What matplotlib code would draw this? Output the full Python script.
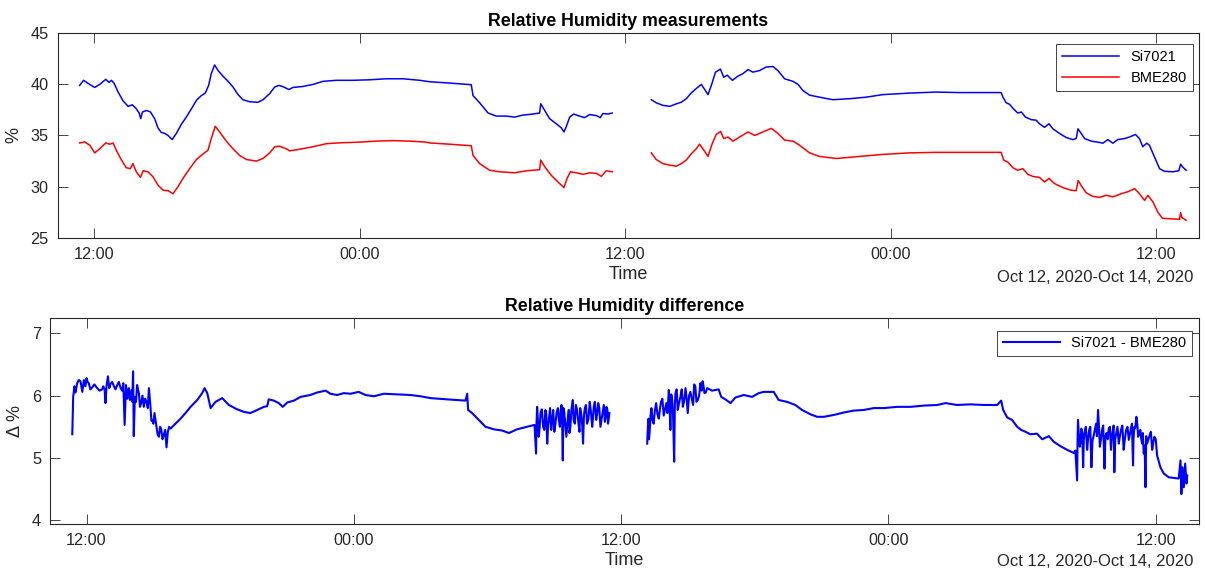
import numpy as np
import matplotlib
matplotlib.use('Agg')
import matplotlib.pyplot as plt
import matplotlib.dates as mdates

# (hours after 2020-10-12 00:00, value)
si7021_rh = [
    (11.35, 39.9), (11.53, 40.4), (11.73, 40.1), (12.03, 39.7), (12.26, 40.0), (12.53, 40.5),
    (12.68, 40.2), (12.79, 40.4), (12.91, 40.1), (13.09, 39.25), (13.31, 38.4), (13.54, 37.85),
    (13.73, 38.0), (13.88, 37.7), (14.04, 37.2), (14.11, 36.65), (14.19, 37.3), (14.37, 37.45),
    (14.55, 37.3), (14.74, 36.65), (14.89, 35.75), (15.04, 35.3), (15.20, 35.2), (15.35, 35.0),
    (15.53, 34.6), (15.72, 35.2), (15.95, 36.1), (16.17, 36.8), (16.40, 37.6), (16.63, 38.45),
    (16.85, 38.9), (17.03, 39.15), (17.18, 39.9), (17.30, 41.05), (17.45, 41.9), (17.61, 41.35),
    (17.83, 40.8), (18.06, 40.3), (18.28, 39.75), (18.51, 39.0), (18.73, 38.5), (19.04, 38.3),
    (19.41, 38.25), (19.64, 38.5), (19.94, 39.1), (20.17, 39.75), (20.36, 39.9), (20.57, 39.75),
    (20.81, 39.5), (20.99, 39.7), (21.45, 39.8), (21.90, 40.0), (22.35, 40.3), (22.95, 40.4),
    (23.71, 40.4), (24.46, 40.45), (25.21, 40.55), (25.97, 40.55), (26.72, 40.4), (27.17, 40.26),
    (28.07, 40.13), (29.05, 39.97), (29.13, 38.9), (29.43, 38.2), (29.81, 37.2), (30.18, 36.9),
    (30.63, 36.9), (31.01, 36.8), (31.39, 37.0), (31.84, 37.1), (32.14, 37.2), (32.19, 38.1),
    (32.37, 37.45), (32.59, 36.65), (32.89, 36.15), (33.12, 35.75), (33.24, 35.35), (33.35, 35.9),
    (33.50, 36.8), (33.68, 37.1), (33.87, 36.95), (34.17, 36.75), (34.40, 37.05), (34.70, 36.95),
    (34.88, 36.75), (35.00, 37.15), (35.23, 37.1), (35.42, 37.2),
    (37.19, 38.5), (37.41, 38.2), (37.71, 37.95), (38.02, 37.85), (38.32, 38.1), (38.54, 38.25),
    (38.77, 38.6), (38.99, 39.15), (39.22, 39.6), (39.45, 40.0), (39.60, 39.5), (39.75, 39.0),
    (39.90, 39.9), (40.09, 41.2), (40.31, 41.5), (40.46, 40.7), (40.62, 40.9), (40.85, 40.4),
    (41.10, 40.8), (41.33, 41.05), (41.56, 41.45), (41.78, 41.2), (42.08, 41.35), (42.38, 41.7),
    (42.69, 41.75), (42.91, 41.35), (43.21, 40.55), (43.59, 40.3), (43.82, 40.0), (44.04, 39.4),
    (44.34, 38.95), (44.79, 38.75), (45.39, 38.5), (46.15, 38.6), (46.90, 38.75), (47.65, 39.0),
    (48.86, 39.15), (50.06, 39.25), (51.12, 39.2), (51.87, 39.2), (53.00, 39.2), (53.08, 38.75),
    (53.23, 38.2), (53.38, 38.05), (53.56, 37.6), (53.75, 37.2), (53.91, 37.3), (54.10, 36.8),
    (54.36, 36.55), (54.58, 36.5), (54.73, 36.15), (54.96, 35.8), (55.16, 36.15), (55.34, 35.65),
    (55.64, 35.2), (55.94, 34.8), (56.24, 34.6), (56.39, 34.7), (56.47, 35.65), (56.57, 35.35),
    (56.77, 34.7), (57.07, 34.45), (57.37, 34.35), (57.60, 34.25), (57.82, 34.6), (58.05, 34.25),
    (58.27, 34.6), (58.58, 34.7), (58.80, 34.85), (59.07, 35.1), (59.25, 34.7), (59.40, 33.9),
    (59.58, 34.25), (59.70, 34.05), (59.93, 32.9), (60.16, 31.75), (60.38, 31.5), (60.76, 31.45),
    (61.03, 31.55), (61.11, 32.2), (61.21, 31.9), (61.36, 31.6),
]

bme280_rh = [
    (11.35, 34.27), (11.58, 34.37), (11.81, 34.05), (12.03, 33.3), (12.26, 33.7), (12.53, 34.27),
    (12.71, 34.15), (12.86, 34.27), (13.01, 33.55), (13.24, 32.6), (13.46, 31.85), (13.64, 31.75),
    (13.76, 32.25), (13.91, 31.45), (14.10, 30.9), (14.22, 31.55), (14.44, 31.45), (14.67, 30.95),
    (14.89, 30.15), (15.12, 29.65), (15.35, 29.6), (15.57, 29.3), (15.80, 30.0), (16.02, 30.8),
    (16.32, 31.75), (16.63, 32.65), (16.93, 33.2), (17.15, 33.55), (17.30, 34.7), (17.48, 35.9),
    (17.68, 35.35), (17.98, 34.45), (18.28, 33.7), (18.58, 33.05), (18.89, 32.65), (19.34, 32.5),
    (19.64, 32.75), (19.94, 33.3), (20.17, 33.9), (20.39, 33.95), (20.69, 33.7), (20.84, 33.5),
    (21.15, 33.6), (21.90, 33.9), (22.50, 34.2), (23.25, 34.3), (24.01, 34.35), (24.76, 34.45),
    (25.51, 34.5), (26.27, 34.45), (27.02, 34.35), (27.17, 34.27), (28.07, 34.15), (29.05, 34.0),
    (29.13, 33.05), (29.43, 32.25), (29.88, 31.6), (30.33, 31.45), (31.01, 31.35), (31.54, 31.55),
    (32.14, 31.65), (32.19, 32.6), (32.37, 31.95), (32.67, 31.1), (32.97, 30.45), (33.24, 29.9),
    (33.38, 30.8), (33.53, 31.45), (33.80, 31.35), (34.10, 31.2), (34.40, 31.35), (34.70, 31.3),
    (34.93, 31.0), (35.15, 31.55), (35.42, 31.45),
    (37.19, 33.3), (37.41, 32.65), (37.71, 32.25), (38.02, 32.1), (38.32, 32.0), (38.54, 32.25),
    (38.77, 32.6), (38.99, 33.2), (39.22, 33.7), (39.37, 34.15), (39.52, 33.7), (39.75, 32.95),
    (39.94, 34.2), (40.12, 35.1), (40.32, 35.4), (40.46, 34.7), (40.65, 34.85), (40.88, 34.45),
    (41.18, 34.85), (41.56, 35.35), (41.86, 35.0), (42.23, 35.35), (42.61, 35.7), (42.91, 35.2),
    (43.21, 34.55), (43.59, 34.45), (43.89, 34.05), (44.34, 33.3), (44.79, 32.95), (45.55, 32.75),
    (46.60, 32.95), (47.65, 33.15), (48.86, 33.3), (50.06, 33.35), (51.12, 33.35), (53.00, 33.35),
    (53.11, 32.6), (53.30, 32.4), (53.53, 31.85), (53.75, 31.6), (53.98, 31.75), (54.21, 31.2),
    (54.43, 31.0), (54.73, 30.9), (54.96, 30.45), (55.16, 30.8), (55.41, 30.3), (55.79, 29.9),
    (56.16, 29.65), (56.39, 29.6), (56.48, 30.6), (56.62, 30.1), (56.84, 29.4), (57.14, 29.05),
    (57.45, 28.95), (57.75, 29.15), (58.05, 29.0), (58.42, 29.3), (58.73, 29.5), (59.03, 29.8),
    (59.25, 29.3), (59.48, 28.65), (59.63, 29.15), (59.86, 28.5), (60.08, 27.5), (60.29, 26.9),
    (61.06, 26.8), (61.11, 27.45), (61.16, 27.0), (61.36, 26.7),
]

rh_diff = [
    (11.36, 5.38), (11.40, 5.98), (11.46, 6.15), (11.58, 6.2), (11.73, 6.23), (11.81, 6.06),
    (11.88, 6.25), (12.00, 6.28), (12.10, 6.2), (12.25, 6.13), (12.48, 6.12), (12.70, 6.1),
    (12.81, 6.1), (12.85, 5.88), (12.90, 6.17), (12.96, 6.31), (13.08, 6.19), (13.23, 6.15),
    (13.38, 6.17), (13.53, 6.12), (13.65, 6.2), (13.71, 5.53), (13.77, 6.17), (13.86, 6.06),
    (13.95, 5.93), (14.02, 6.09), (14.09, 6.39), (14.12, 5.35), (14.17, 5.98), (14.27, 6.17),
    (14.35, 6.04), (14.45, 5.88), (14.57, 5.82), (14.69, 5.9), (14.80, 6.12), (14.87, 5.82),
    (14.95, 5.61), (15.05, 5.72), (15.14, 5.5), (15.25, 5.34), (15.35, 5.47), (15.47, 5.37),
    (15.59, 5.17), (15.65, 5.42), (15.77, 5.47), (15.99, 5.55), (16.22, 5.63), (16.44, 5.72),
    (16.67, 5.82), (16.97, 5.93), (17.19, 6.04), (17.30, 6.12), (17.42, 6.04), (17.57, 5.8),
    (17.79, 5.9), (18.09, 5.96), (18.39, 5.85), (18.76, 5.78), (19.06, 5.74), (19.36, 5.72),
    (19.66, 5.77), (19.96, 5.82), (20.11, 5.83), (20.18, 5.94), (20.41, 5.92), (20.63, 5.88),
    (20.81, 5.82), (21.01, 5.89), (21.31, 5.92), (21.61, 5.98), (22.05, 6.01), (22.35, 6.05),
    (22.73, 6.08), (22.95, 6.03), (23.25, 6.01), (23.55, 6.04), (23.85, 6.03), (24.22, 6.06),
    (24.52, 6.01), (24.90, 5.99), (25.35, 6.03), (25.94, 6.02), (26.54, 6.01), (26.99, 5.99),
    (27.44, 5.96), (28.19, 5.94), (29.01, 5.92), (29.09, 6.03), (29.13, 5.77), (29.31, 5.72),
    (29.61, 5.61), (29.91, 5.5), (30.28, 5.46), (30.66, 5.44), (30.96, 5.4), (31.33, 5.46),
    (31.78, 5.5), (32.11, 5.53), (32.18, 5.07), (32.23, 5.82), (32.30, 5.34), (32.38, 5.72),
    (32.50, 5.5), (32.60, 5.77), (32.68, 5.23), (32.77, 5.66), (32.86, 5.45), (32.95, 5.77),
    (33.05, 5.55), (33.16, 5.8), (33.25, 5.5), (33.32, 5.85), (33.38, 4.96), (33.45, 5.72),
    (33.54, 5.34), (33.65, 5.77), (33.72, 5.5), (33.83, 5.93), (33.92, 5.55), (34.02, 5.77),
    (34.13, 5.42), (34.20, 5.72), (34.29, 5.23), (34.37, 5.8), (34.47, 5.55), (34.59, 5.9),
    (34.70, 5.5), (34.77, 5.82), (34.88, 5.61), (34.97, 5.88), (35.07, 5.5), (35.18, 5.77),
    (35.27, 5.58), (35.34, 5.82), (35.41, 5.55), (35.47, 5.72),
    (37.17, 5.23), (37.23, 5.63), (37.28, 5.42), (37.36, 5.8), (37.46, 5.55), (37.57, 5.88),
    (37.69, 5.63), (37.79, 5.9), (37.91, 5.68), (38.03, 5.88), (38.14, 6.09), (38.21, 5.45),
    (38.29, 5.93), (38.38, 4.94), (38.44, 6.04), (38.54, 5.77), (38.66, 5.98), (38.77, 5.82),
    (38.89, 6.12), (38.99, 5.72), (39.11, 6.06), (39.23, 5.85), (39.33, 6.15), (39.44, 5.93),
    (39.56, 6.2), (39.66, 6.23), (39.74, 6.04), (39.86, 6.12), (40.08, 6.08), (40.38, 6.1),
    (40.49, 5.98), (40.68, 5.94), (40.91, 5.88), (41.13, 5.97), (41.50, 6.01), (41.88, 5.98),
    (42.18, 6.04), (42.40, 6.06), (42.85, 6.06), (43.07, 5.93), (43.45, 5.9), (43.82, 5.85),
    (44.12, 5.77), (44.50, 5.7), (44.80, 5.66), (45.10, 5.66), (45.55, 5.69), (46.00, 5.73),
    (46.45, 5.76), (46.89, 5.77), (47.34, 5.8), (47.79, 5.8), (48.39, 5.82), (48.99, 5.82),
    (49.59, 5.84), (50.19, 5.85), (50.56, 5.88), (51.08, 5.85), (51.68, 5.86), (52.28, 5.85),
    (52.88, 5.85), (53.06, 5.92), (53.15, 5.77), (53.33, 5.65), (53.55, 5.61), (53.78, 5.5),
    (53.96, 5.45), (54.15, 5.42), (54.37, 5.38), (54.67, 5.39), (54.90, 5.3), (55.20, 5.35),
    (55.42, 5.26), (55.72, 5.19), (56.02, 5.13), (56.32, 5.08), (56.39, 5.12), (56.47, 4.64),
    (56.51, 5.61), (56.59, 5.18), (56.66, 5.47), (56.74, 4.85), (56.81, 5.42), (56.92, 5.13),
    (57.01, 5.45), (57.11, 4.85), (57.22, 5.37), (57.32, 5.55), (57.41, 5.77), (57.49, 5.18),
    (57.59, 5.45), (57.70, 4.83), (57.79, 5.4), (57.89, 5.47), (57.99, 5.13), (58.08, 5.45),
    (58.14, 4.77), (58.23, 5.4), (58.34, 5.23), (58.44, 5.45), (58.56, 5.13), (58.67, 5.45),
    (58.79, 5.29), (58.89, 5.47), (58.98, 4.88), (59.04, 5.5), (59.13, 5.66), (59.21, 5.34),
    (59.31, 5.45), (59.39, 5.23), (59.46, 5.07), (59.54, 4.53), (59.61, 5.23), (59.73, 5.37),
    (59.84, 5.13), (59.94, 5.34), (60.06, 5.04), (60.21, 4.85), (60.36, 4.75), (60.58, 4.69),
    (60.81, 4.68), (61.03, 4.67), (61.11, 4.96), (61.15, 4.42), (61.20, 4.85), (61.26, 4.53),
    (61.32, 4.91), (61.38, 4.59), (61.41, 4.72),
    # extra samples inside the noisy stretches
    (11.50, 6.05), (11.65, 6.25), (11.77, 6.15), (11.95, 6.15), (12.05, 6.22), (12.17, 6.1),
    (12.35, 6.18), (12.58, 6.08), (12.75, 6.15), (13.02, 6.12), (13.15, 6.22), (13.30, 6.1),
    (13.45, 6.22), (13.60, 6.08), (13.83, 5.95), (13.90, 6.12), (13.98, 6.0), (14.05, 5.9),
    (14.22, 5.9), (14.31, 6.1), (14.40, 5.82), (14.51, 6.0), (14.63, 5.95), (14.75, 5.8),
    (14.84, 5.95), (14.91, 5.6), (15.00, 5.55), (15.10, 5.6), (15.19, 5.38), (15.30, 5.5),
    (15.41, 5.3), (15.53, 5.45), (15.62, 5.3), (15.71, 5.5),
    (32.20, 5.55), (32.26, 5.6), (32.34, 5.48), (32.44, 5.78), (32.55, 5.45), (32.64, 5.7),
    (32.72, 5.5), (32.81, 5.8), (32.90, 5.58), (33.00, 5.42), (33.10, 5.72), (33.20, 5.62),
    (33.28, 5.75), (33.35, 5.6), (33.41, 5.8), (33.49, 5.55), (33.60, 5.62), (33.68, 5.4),
    (33.77, 5.78), (33.87, 5.6), (33.97, 5.85), (34.07, 5.6), (34.16, 5.8), (34.25, 5.55),
    (34.33, 5.68), (34.42, 5.85), (34.53, 5.62), (34.64, 5.75), (34.73, 5.62), (34.82, 5.9),
    (34.92, 5.7), (35.02, 5.8), (35.12, 5.62), (35.22, 5.85), (35.30, 5.65), (35.38, 5.78),
    (35.44, 5.62),
    (37.20, 5.5), (37.25, 5.3), (37.32, 5.68), (37.41, 5.6), (37.51, 5.75), (37.63, 5.7),
    (37.74, 5.78), (37.85, 5.95), (37.97, 5.78), (38.08, 5.72), (38.17, 5.9), (38.25, 6.02),
    (38.33, 5.7), (38.41, 5.85), (38.49, 6.1), (38.60, 5.88), (38.72, 6.1), (38.83, 5.92),
    (38.94, 5.95), (39.05, 6.0), (39.17, 5.95), (39.28, 6.18), (39.38, 5.9), (39.50, 6.0),
    (39.61, 6.08), (39.70, 6.15), (39.80, 6.05),
    (56.49, 5.3), (56.55, 5.35), (56.62, 5.25), (56.70, 5.4), (56.77, 5.3), (56.86, 5.5),
    (56.96, 5.3), (57.06, 5.5), (57.16, 5.28), (57.27, 5.46), (57.36, 5.35), (57.45, 5.5),
    (57.54, 5.3), (57.64, 5.52), (57.74, 5.35), (57.84, 5.3), (57.94, 5.5), (58.03, 5.35),
    (58.11, 5.52), (58.18, 5.3), (58.28, 5.5), (58.39, 5.35), (58.50, 5.52), (58.61, 5.3),
    (58.73, 5.5), (58.84, 5.38), (58.93, 5.55), (59.00, 5.3), (59.08, 5.48), (59.17, 5.55),
    (59.26, 5.42), (59.35, 5.3), (59.42, 5.4), (59.50, 5.2), (59.57, 5.35), (59.67, 5.3),
    (59.78, 5.42), (59.89, 5.25), (60.00, 5.3),
]

gap_hours = 36.3  # no data logged around Oct 13 12:00
x_range = (10.36, 61.94)

t0 = np.datetime64('2020-10-12T00:00:00')


def to_time(h):
    sec = np.round(np.asarray(h, dtype=float) * 3600).astype(np.int64)
    return t0 + sec.astype('timedelta64[s]')


def series(points):
    points = sorted(points)
    h = np.array([p[0] for p in points])
    v = np.array([p[1] for p in points])
    i = np.searchsorted(h, gap_hours)
    h = np.insert(h, i, gap_hours)
    v = np.insert(v, i, np.nan)
    return to_time(h), v


plt.rcParams['font.family'] = ['Liberation Sans', 'DejaVu Sans']
grey = '#262626'


def style(ax):
    for s in ax.spines.values():
        s.set_color(grey)
        s.set_linewidth(0.8)
    ax.tick_params(direction='in', length=7.5, width=0.6, colors=grey,
                   labelsize=11.7, top=True, right=True, pad=6.5)
    ax.xaxis.set_major_locator(mdates.HourLocator(byhour=[0, 12]))
    ax.xaxis.set_major_formatter(mdates.DateFormatter('%H:%M'))
    ax.set_xlim(to_time(x_range[0]), to_time(x_range[1]))
    ax.set_xlabel('Time', fontsize=13, color=grey, labelpad=3)


fig = plt.figure(figsize=(12.05, 5.71), dpi=100)
ax1 = fig.add_axes([0.0479, 0.5837, 0.9471, 0.3580])
ax2 = fig.add_axes([0.0415, 0.0828, 0.9535, 0.3597])

t, v = series(si7021_rh)
ax1.plot(t, v, color='blue', lw=1.1, label='Si7021')
t, v = series(bme280_rh)
ax1.plot(t, v, color='red', lw=1.1, label='BME280')
style(ax1)
ax1.set_ylim(25, 45)
ax1.set_yticks([25, 30, 35, 40, 45])
ax1.set_ylabel('%', fontsize=13, color=grey, labelpad=6)
ax1.set_title('Relative Humidity measurements', fontsize=12.8, fontweight='bold', pad=5)
leg = ax1.legend(loc='upper right', bbox_to_anchor=(0.9945, 0.946), borderaxespad=0,
                 fontsize=10.5, fancybox=False, edgecolor=grey, handlelength=3.9,
                 framealpha=1)
leg.get_frame().set_linewidth(0.6)

t, v = series(rh_diff)
ax2.plot(t, v, color='blue', lw=1.5, label='Si7021 - BME280')
style(ax2)
ax2.set_ylim(3.945, 7.24)
ax2.set_yticks([4, 5, 6, 7])
ax2.set_ylabel('\u0394 %', fontsize=13, color=grey, labelpad=6)
ax2.set_title('Relative Humidity difference', fontsize=12.8, fontweight='bold', pad=5)
leg = ax2.legend(loc='upper right', bbox_to_anchor=(0.9942, 0.94), borderaxespad=0,
                 fontsize=10.5, fancybox=False, edgecolor=grey, handlelength=3.9,
                 framealpha=1)
leg.get_frame().set_linewidth(0.6)

fig.text(1193 / 1205, 1 - 277 / 571, 'Oct 12, 2020-Oct 14, 2020', ha='right', va='center',
         fontsize=12, color=grey)
fig.text(1193 / 1205, 1 - 561 / 571, 'Oct 12, 2020-Oct 14, 2020', ha='right', va='center',
         fontsize=12, color=grey)

fig.savefig('out.png', dpi=100)
